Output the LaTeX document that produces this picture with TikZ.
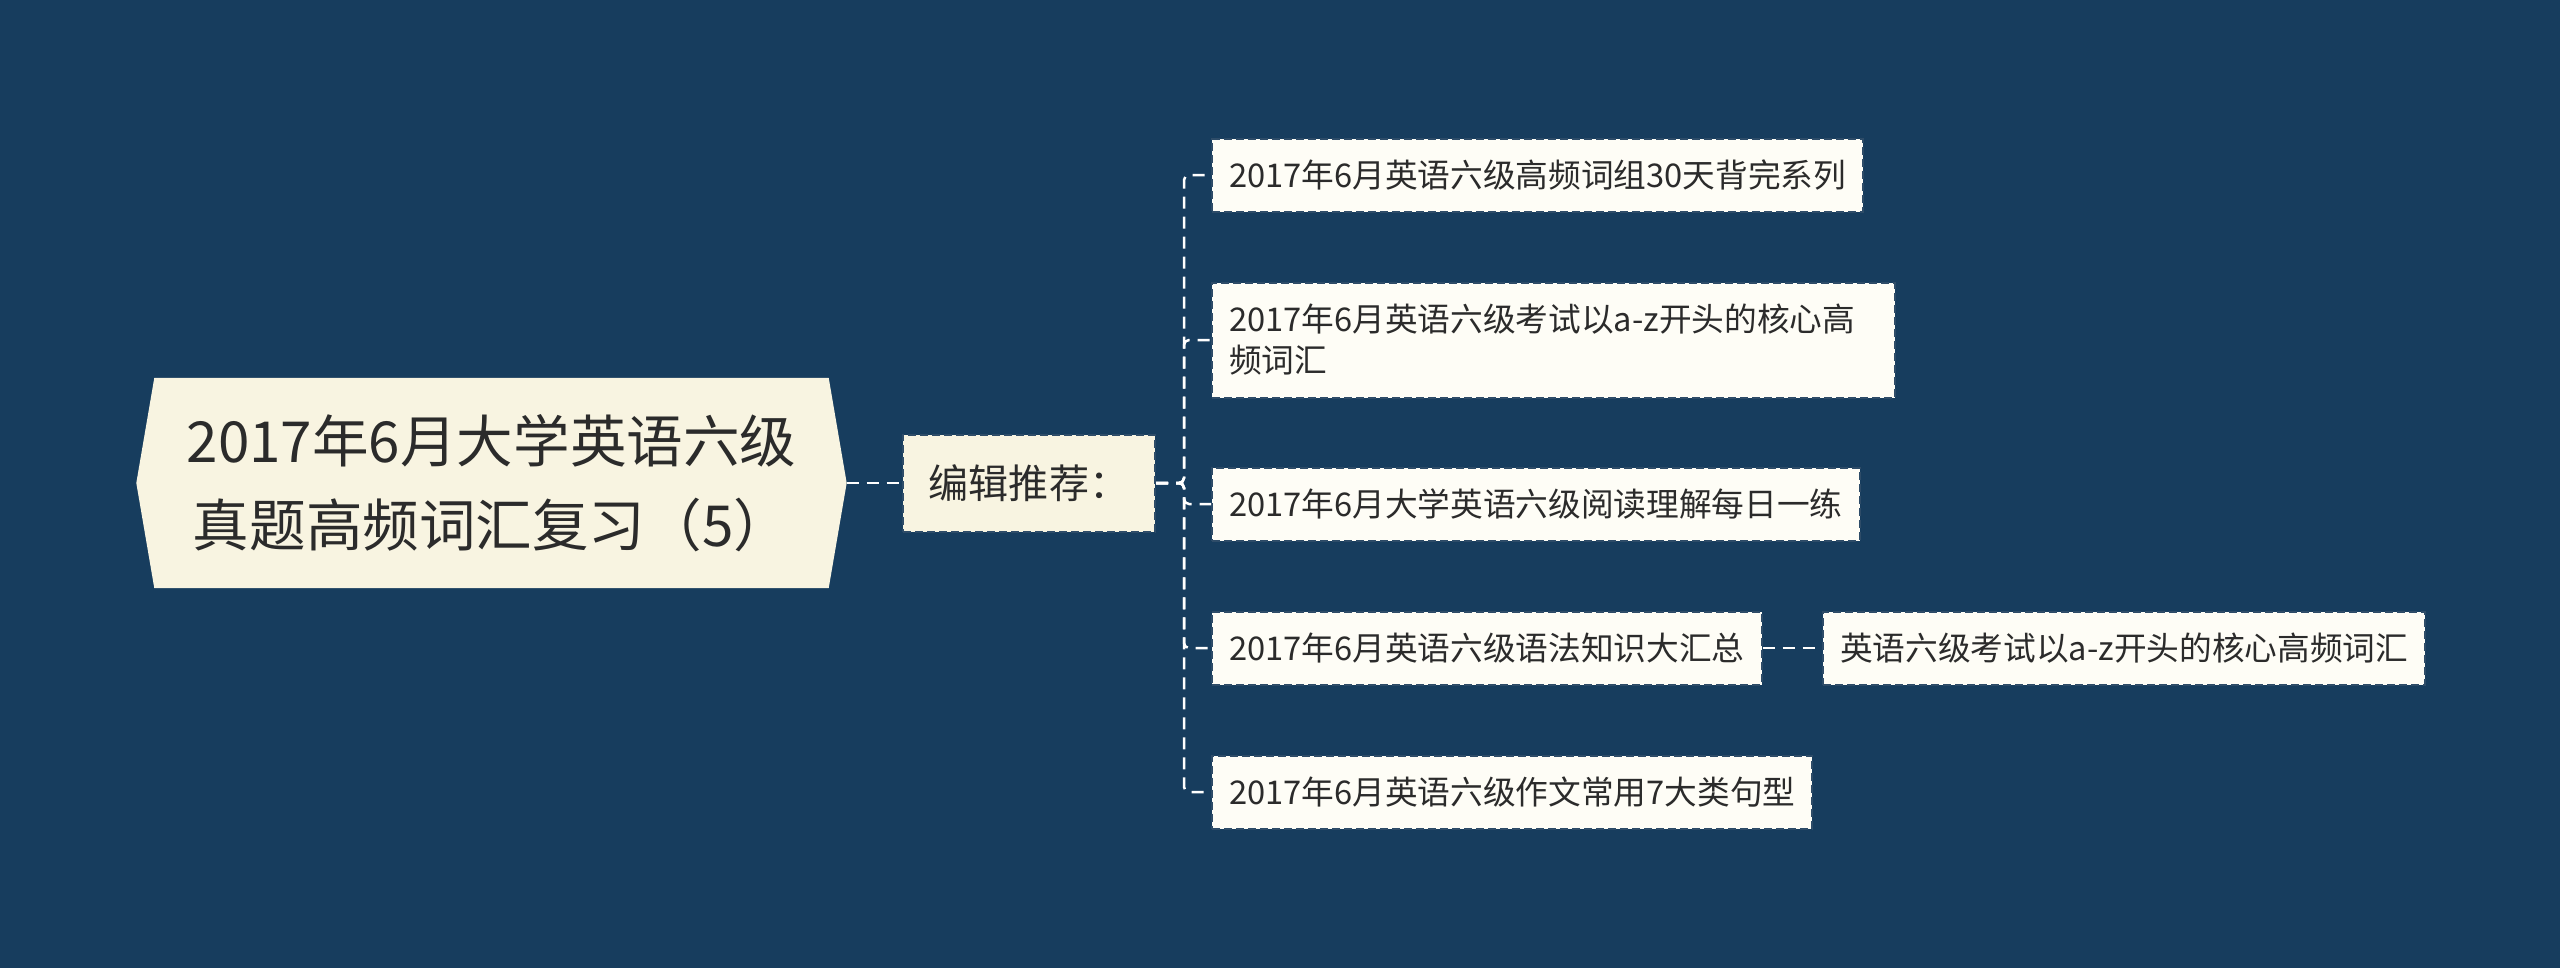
\documentclass[tikz,border=0pt]{standalone}
\usepackage{fontspec}
\setmainfont{Noto Sans CJK SC}
\usetikzlibrary{backgrounds}
\usepackage{xcolor}

\definecolor{bgblue}{HTML}{173D5E}
\definecolor{rootcream}{HTML}{F8F4E1}
\definecolor{leafwhite}{HTML}{FEFDF6}
\definecolor{inkgray}{HTML}{2B2B2B}
\definecolor{edgeblue}{HTML}{2E4C68}

\begin{document}
\begin{tikzpicture}[x=0.1mm, y=0.1mm,
	rootbox/.style={minimum width=70.9mm, minimum height=20.9mm, inner sep=0pt, align=center, text=inkgray, font=\fontsize{16.1}{23.9}\selectfont},
	dashbox/.style={draw=edgeblue, dash pattern=on 0.8mm off 0.4mm, line width=0.2mm, text=inkgray},
	midbox/.style={dashbox, fill=rootcream, minimum width=25.2mm, minimum height=9.7mm, inner sep=0pt, anchor=west, font=\fontsize{11.4}{14}\selectfont},
	leafbox/.style={dashbox, fill=leafwhite, inner xsep=1.7mm, inner ysep=0pt, minimum height=7.3mm, anchor=west, align=left, font=\fontsize{9.3}{11.7}\selectfont},
	link/.style={draw=white, line width=0.25mm, dash pattern=on 1.2mm off 0.8mm, rounded corners=0.5mm}]
	\useasboundingbox (0,0) rectangle (2560,968);

	% main topic and the one branch
	\node [rootbox] (root) at (491.5,485) {2017年6月大学英语六级\\真题高频词汇复习（5）};
	\node [midbox] (recmd) at (902,485) {编辑推荐：};

	% leaves
	\coordinate (spine) at (1184,485);
	\node [leafbox] (words) at (1211,793) {2017年6月英语六级高频词组30天背完系列};
	\node [leafbox, minimum height=11.5mm, text width=64.9mm] (vocab) at (1211,628) {2017年6月英语六级考试以a-z开头的核心高\\频词汇};
	\node [leafbox] (reading) at (1211,464) {2017年6月大学英语六级阅读理解每日一练};
	\node [leafbox] (grammar) at (1211,320) {2017年6月英语六级语法知识大汇总};
	\node [leafbox] (writing) at (1211,176) {2017年6月英语六级作文常用7大类句型};
	\node [leafbox] (azvocab) at (1822,320) {英语六级考试以a-z开头的核心高频词汇};

	\draw [link] (root.east) -- (recmd.west);
	\foreach \leaf in {words, vocab, reading, grammar, writing}
		\draw [link] (recmd.east) -- (spine) |- (\leaf.west);
	\draw [link] (grammar.east) -- (azvocab.west);

	\begin{pgfonlayer}{background}
		\fill [bgblue] (0,0) rectangle (2560,968);
		% six-sided plate under the main topic
		\fill [rootcream] (root.west) -- ([xshift=1.8mm]root.north west) -- ([xshift=-1.8mm]root.north east)
			-- (root.east) -- ([xshift=-1.8mm]root.south east) -- ([xshift=1.8mm]root.south west) -- cycle;
	\end{pgfonlayer}
\end{tikzpicture}
\end{document}
